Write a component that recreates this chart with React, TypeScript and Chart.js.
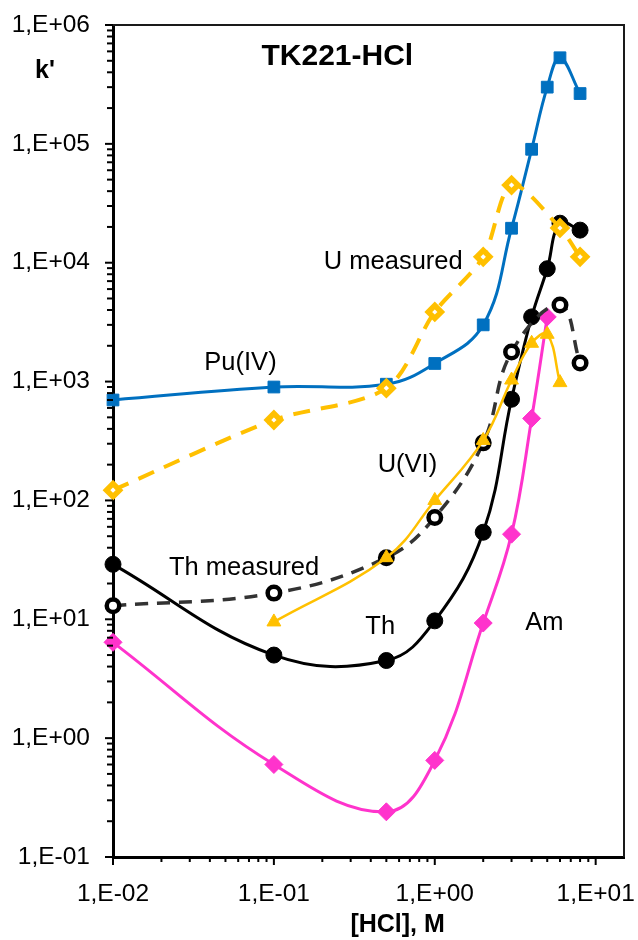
import React, { useEffect, useRef } from "react";
import { Chart, registerables } from "chart.js";
Chart.register(...registerables);

// ---------- data ----------
const hclPu = [0.01, 0.1, 0.5, 1, 2, 3, 4, 5, 6, 8];
const kPu = [700, 900, 950, 1420, 3000, 19500, 90000, 300000, 530000, 265000];

const hclUmeas = [0.01, 0.1, 0.5, 1, 2, 3, 6, 8];
const kUmeas = [122, 475, 880, 3850, 11200, 45000, 19600, 11200];

const hclTh = [0.01, 0.1, 0.5, 1, 2, 3, 4, 5, 6, 8];
const kTh = [29, 5.0, 4.5, 9.7, 54, 710, 3500, 8900, 21500, 18800];

const hclThmeas = [0.01, 0.1, 0.5, 1, 2, 3, 6, 8];
const kThmeas = [13, 16.6, 33, 72, 305, 1770, 4400, 1430];

const hclU6 = [0.1, 0.5, 1, 2, 3, 4, 5, 6];
const kU6 = [9.5, 33, 100, 320, 1030, 2100, 2500, 980];

const hclAm = [0.01, 0.1, 0.5, 1, 2, 3, 4, 5];
const kAm = [6.4, 0.6, 0.24, 0.65, 9.3, 52, 490, 3500];

const xDecades = [0.01, 0.1, 1, 10];
const yDecades = [0.1, 1, 10, 100, 1000, 10000, 100000, 1000000];
const minorMultipliers = [2, 3, 4, 5, 6, 7, 8, 9];
const xMin = 0.01;
const xMax = 15;
const yMin = 0.1;
const yMax = 1000000;

const seriesLabels = [
  { text: "Pu(IV)", x: 0.062, y: 1430 },
  { text: "U measured", x: 0.552, y: 10100 },
  { text: "Th measured", x: 0.0653, y: 27 },
  { text: "U(VI)", x: 0.676, y: 199 },
  { text: "Th", x: 0.458, y: 8.6 },
  { text: "Am", x: 4.8, y: 9.3 },
];
const chartTitle = { text: "TK221-HCl", x: 0.248, y: 540000 };
const xAxisTitle = "[HCl], M";
const yAxisTitle = "k'";

const FONT = "'Liberation Sans', Arial, sans-serif";

const pts = (xs: number[], ys: number[]) => xs.map((x, i) => ({ x, y: ys[i] }));

const fmt = (v: number) => {
  const e = Math.round(Math.log10(v));
  const sign = e < 0 ? "-" : "+";
  const a = Math.abs(e);
  return "1,E" + sign + (a < 10 ? "0" + a : String(a));
};
const isPow10 = (v: number) => {
  const l = Math.log10(v);
  return Math.abs(l - Math.round(l)) < 1e-9;
};

const buildTicks = (decades: number[], lo: number, hi: number) => {
  const out: { value: number; major: boolean }[] = [];
  decades.forEach((d) => {
    if (d >= lo - 1e-12 && d <= hi + 1e-12) out.push({ value: d, major: true });
    minorMultipliers.forEach((m) => {
      const v = d * m;
      if (v > lo && v < hi && !isPow10(v)) out.push({ value: v, major: false });
    });
  });
  return out.sort((a, b) => a.value - b.value);
};

const decorPlugin = {
  id: "decor",
  afterDraw(chart: any) {
    const { ctx, chartArea, scales } = chart;
    const xs = scales.x;
    const ys = scales.y;
    ctx.save();
    ctx.strokeStyle = "#000";
    ctx.lineWidth = 2;
    xs.ticks.forEach((t: any) => {
      const px = xs.getPixelForValue(t.value);
      const len = t.major ? 8 : 5;
      ctx.beginPath();
      ctx.moveTo(px, chartArea.bottom);
      ctx.lineTo(px, chartArea.bottom + len);
      ctx.stroke();
    });
    ys.ticks.forEach((t: any) => {
      const py = ys.getPixelForValue(t.value);
      const len = t.major ? 8 : 6;
      ctx.beginPath();
      ctx.moveTo(chartArea.left, py);
      ctx.lineTo(chartArea.left - len, py);
      ctx.stroke();
    });
    ctx.strokeStyle = "#1a1a1a";
    ctx.lineWidth = 2;
    ctx.beginPath();
    ctx.moveTo(chartArea.left, chartArea.top);
    ctx.lineTo(chartArea.right, chartArea.top);
    ctx.lineTo(chartArea.right, chartArea.bottom);
    ctx.stroke();
    ctx.fillStyle = "#000";
    ctx.textAlign = "center";
    ctx.textBaseline = "middle";
    ctx.font = "25.5px " + FONT;
    seriesLabels.forEach((l) => {
      ctx.fillText(l.text, xs.getPixelForValue(l.x), ys.getPixelForValue(l.y));
    });
    ctx.font = "bold 30px " + FONT;
    ctx.fillText(chartTitle.text, xs.getPixelForValue(chartTitle.x), ys.getPixelForValue(chartTitle.y));
    ctx.font = "bold 25px " + FONT;
    ctx.fillText(xAxisTitle, chartArea.left + (chartArea.right - chartArea.left) * 0.557, 925);
    ctx.fillText(yAxisTitle, 45, 71);
    ctx.restore();
  },
};

export default function App() {
  const ref = useRef<HTMLCanvasElement | null>(null);
  useEffect(() => {
    if (!ref.current) return;
    const BLUE = "#0070C0";
    const YEL = "#FFC000";
    const MAG = "#FF33CC";
    const chart = new Chart(ref.current, {
      type: "line",
      data: {
        datasets: [
          {
            label: "U(VI)",
            data: pts(hclU6, kU6),
            borderColor: YEL,
            backgroundColor: YEL,
            borderWidth: 2.5,
            tension: 0.4,
            pointStyle: "triangle",
            pointRadius: 8,
            pointBackgroundColor: YEL,
            pointBorderColor: YEL,
            pointBorderWidth: 1,
            clip: false,
          },
          {
            label: "Th measured",
            data: pts(hclThmeas, kThmeas),
            borderColor: "#333333",
            backgroundColor: "#fff",
            borderWidth: 3.5,
            borderDash: [13, 9],
            tension: 0.4,
            pointStyle: "circle",
            pointRadius: 6.25,
            pointBackgroundColor: "#fff",
            pointBorderColor: "#000",
            pointBorderWidth: 4.5,
            clip: false,
          },
          {
            label: "U measured",
            data: pts(hclUmeas, kUmeas),
            borderColor: YEL,
            backgroundColor: "#fff",
            borderWidth: 4,
            borderDash: [17, 11],
            tension: 0.3,
            pointStyle: "rectRot",
            pointRadius: 6.5,
            pointBackgroundColor: "#fff",
            pointBorderColor: YEL,
            pointBorderWidth: 5.5,
            clip: false,
          },
          {
            label: "Pu(IV)",
            data: pts(hclPu, kPu),
            borderColor: BLUE,
            backgroundColor: BLUE,
            borderWidth: 3,
            tension: 0.4,
            pointStyle: "rect",
            pointRadius: 8.3,
            pointBackgroundColor: BLUE,
            pointBorderColor: BLUE,
            pointBorderWidth: 1,
            clip: false,
          },
          {
            label: "Th",
            data: pts(hclTh, kTh),
            borderColor: "#000",
            backgroundColor: "#000",
            borderWidth: 3,
            tension: 0.4,
            pointStyle: "circle",
            pointRadius: 8,
            pointBackgroundColor: "#000",
            pointBorderColor: "#000",
            pointBorderWidth: 1,
            clip: false,
          },
          {
            label: "Am",
            data: pts(hclAm, kAm),
            borderColor: MAG,
            backgroundColor: MAG,
            borderWidth: 3,
            tension: 0.4,
            pointStyle: "rectRot",
            pointRadius: 9,
            pointBackgroundColor: MAG,
            pointBorderColor: MAG,
            pointBorderWidth: 1,
            clip: false,
          },
        ],
      },
      options: {
        animation: false,
        responsive: false,
        maintainAspectRatio: false,
        layout: { padding: { top: 25, right: 14, left: 0, bottom: 0 } },
        plugins: {
          legend: { display: false },
          tooltip: { enabled: false },
          title: { display: false },
        },
        scales: {
          x: {
            type: "logarithmic",
            min: xMin,
            max: xMax,
            afterBuildTicks: (s: any) => {
              s.ticks = buildTicks(xDecades, xMin, xMax);
            },
            afterFit: (s: any) => {
              s.height = 83;
              s.paddingLeft = 0;
              s.paddingRight = 0;
            },
            border: { display: true, color: "#000", width: 3 },
            grid: {
              display: true,
              drawOnChartArea: false,
              drawTicks: true,
              tickLength: 6,
              color: "rgba(0,0,0,0)",
              tickColor: "rgba(0,0,0,0)",
            },
            ticks: {
              autoSkip: false,
              maxRotation: 0,
              minRotation: 0,
              padding: 17,
              color: "#000",
              font: { family: FONT, size: 24.5 },
              callback: (v: any) => (isPow10(Number(v)) ? fmt(Number(v)) : ""),
            },
          },
          y: {
            type: "logarithmic",
            min: yMin,
            max: yMax,
            afterBuildTicks: (s: any) => {
              s.ticks = buildTicks(yDecades, yMin, yMax);
            },
            afterFit: (s: any) => {
              s.width = 113;
              s.paddingTop = 0;
              s.paddingBottom = 0;
            },
            border: { display: true, color: "#000", width: 3 },
            grid: {
              display: true,
              drawOnChartArea: false,
              drawTicks: true,
              tickLength: 6,
              color: "rgba(0,0,0,0)",
              tickColor: "rgba(0,0,0,0)",
            },
            ticks: {
              autoSkip: false,
              padding: 17,
              color: "#000",
              font: { family: FONT, size: 24.5 },
              callback: (v: any) => (isPow10(Number(v)) ? fmt(Number(v)) : ""),
            },
          },
        },
      },
      plugins: [decorPlugin],
    } as any);
    return () => chart.destroy();
  }, []);
  return (
    <div style={{ position: "absolute", left: 0, top: 0, width: 638, height: 940, background: "#fff" }}>
      <canvas ref={ref} width={638} height={940} style={{ display: "block" }} />
    </div>
  );
}
